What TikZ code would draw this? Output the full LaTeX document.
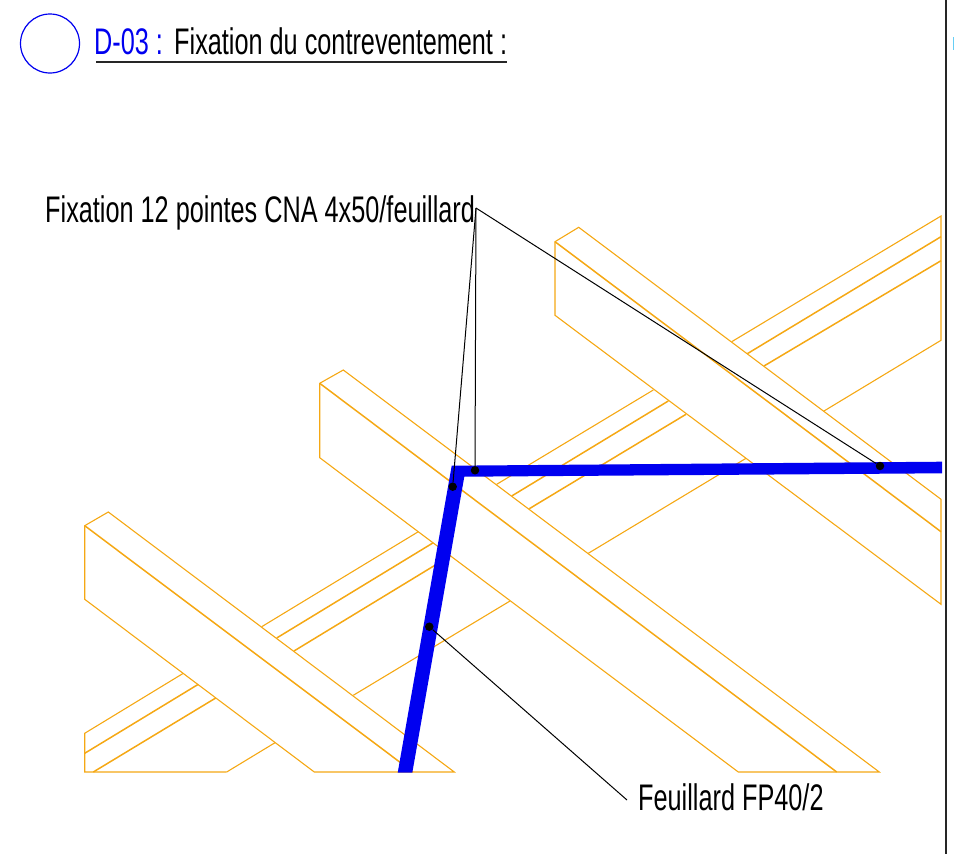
\documentclass[tikz,border=0pt]{standalone}
\usepackage{fontspec}
\setmainfont[FakeStretch=0.683]{Liberation Sans}
\usepackage{tikz}
\usetikzlibrary{positioning}

\definecolor{bois}{rgb}{0.96,0.66,0.08}
\definecolor{acier}{rgb}{0,0,0.94}

\begin{document}
\begin{tikzpicture}[x=1pt,y=-1pt,line join=miter,node font=\fontsize{37}{40}\selectfont]
	\tikzstyle{bord}=[draw=bois,line width=1.1pt]
	\tikzstyle{arete}=[draw=bois,line width=1.5pt]
	\tikzstyle{repere}=[draw=black,line width=1pt]
	\tikzstyle{point}=[circle,fill=black,inner sep=0pt,minimum size=8.5pt]
	\tikzstyle{texte}=[inner sep=0pt,anchor=base west]
	
	\useasboundingbox (0,0) rectangle (954,854);
	
	% cartouche
	\node[circle,draw=acier,line width=1.2pt,inner sep=0pt,minimum size=59pt] (rond) at (50,43.5) {};
	\node[texte,text=acier] (code) at (94,54) {D-03 :};
	\node[texte] (titre) at (174,54) {Fixation du contreventement :};
	\draw[line width=1.5pt,draw=black!85] (96,62) -- (507,62);
	\draw[line width=1.5pt,draw=black!85] (946,0) -- (946,854);
	\draw[line width=1pt,draw=cyan!60] (953.5,37) -- (953.5,50);
	
	% solive, du bas vers le haut
	\draw[bord] (226.7,772) -- (84.7,772) -- (84.7,733.3) -- (183.3,673.3);
	\draw[arete] (84.7,753.3) -- (198.3,684.3);
	\draw[arete] (93.3,772) -- (215.7,698);
	\draw[bord] (226.7,772) -- (275,742.7);
	\draw[bord] (261.7,626.7) -- (418.3,531.7);
	\draw[arete] (276.7,638) -- (433.3,542.7);
	\draw[arete] (294,651) -- (451,555.5);
	\draw[bord] (353.3,695.3) -- (510,601);
	\draw[bord] (496.7,484.3) -- (653.3,390);
	\draw[arete] (511.7,496) -- (668.3,401);
	\draw[arete] (529.3,508.7) -- (686,414.3);
	\draw[bord] (588.3,553.3) -- (746,458.3);
	\draw[bord] (731.7,341.7) -- (941,216) -- (941,340.3) -- (824,411);
	\draw[arete] (747.3,353.7) -- (941,236.7);
	\draw[arete] (764,366) -- (941,260.7);
	
	% trois pannes
	\draw[bord] (314.3,772) -- (84.7,599.3) -- (84.7,525.7) -- (108.3,512) -- (454.3,772) -- cycle;
	\draw[arete] (84.7,525.7) -- (413,772);
	\draw[bord] (738.3,772) -- (319.7,457.7) -- (319.7,383.3) -- (343.3,370) -- (879.3,772) -- cycle;
	\draw[arete] (319.7,383.3) -- (836.7,772);
	\draw[bord] (941,604.3) -- (555,315.3) -- (555,241.7) -- (578.7,227.3) -- (941,499.3) -- cycle;
	\draw[arete] (555,241.7) -- (941,531.7);
	
	% feuillard
	\fill[acier] (397.7,772.7) -- (451.7,465.7) -- (942,461.7) -- (942,473.3) -- (464.3,476.7) -- (412.3,772.7) -- cycle;
	
	\node[point] (P1) at (452.7,486.7) {};
	\node[point] (P2) at (475,470.3) {};
	\node[point] (P3) at (880,466) {};
	\node[point] (P4) at (429.3,626.7) {};
	
	\node[texte] (fixation) at (45,222) {Fixation 12 pointes CNA 4x50/feuillard};
	\node[texte] (fp) at (638,810.7) {Feuillard FP40/2};
	\coordinate (A) at (476,208);
	\coordinate (B) at (627,800);
	
	\path[repere]
	(A) edge (P1)
	(A) edge (P2)
	(A) edge (P3)
	(P4) edge (B);
\end{tikzpicture}
\end{document}
